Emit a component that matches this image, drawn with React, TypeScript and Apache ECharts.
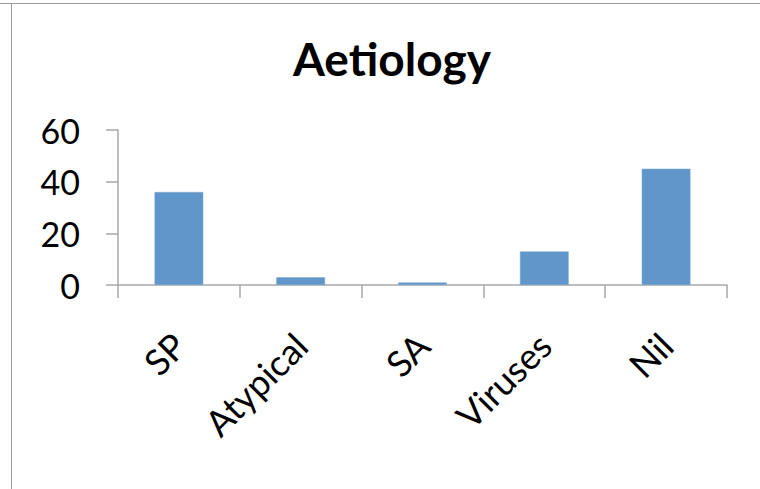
import React, { useEffect, useRef } from "react";
import * as echarts from "echarts";

// Aetiology counts per category
const categories = ["SP", "Atypical", "SA", "Viruses", "Nil"];
const counts = [36, 3, 1, 13, 45];
const yTicks = { min: 0, max: 60, interval: 20 };

const FONT = "Lato, 'Open Sans', sans-serif";
const AXIS_GREY = "#a9a9a9";

export default function App() {
  const ref = useRef<HTMLDivElement>(null);

  useEffect(() => {
    if (!ref.current) return;
    const chart = echarts.init(ref.current, undefined, { renderer: "svg" });
    chart.setOption({
      animation: false,
      backgroundColor: "#ffffff",
      title: {
        text: "Aetiology",
        left: 387,
        textAlign: "center",
        top: 30,
        textStyle: { fontFamily: FONT, fontSize: 46, fontWeight: "bold", color: "#000" },
      },
      graphic: [
        { type: "line", shape: { x1: 0, y1: 3.5, x2: 760, y2: 3.5 }, style: { stroke: "#9a9a9a", lineWidth: 1 } },
        { type: "line", shape: { x1: 11.5, y1: 3.5, x2: 11.5, y2: 489 }, style: { stroke: "#9a9a9a", lineWidth: 1 } },
      ],
      grid: { left: 118, right: 33, top: 130, bottom: 204, containLabel: false },
      xAxis: {
        type: "category",
        data: categories,
        axisLine: { show: true, lineStyle: { color: AXIS_GREY, width: 1.5 } },
        axisTick: { show: true, length: 13, lineStyle: { color: AXIS_GREY, width: 1.5 } },
        axisLabel: {
          rotate: 45,
          margin: 54,
          interval: 0,
          fontFamily: FONT,
          fontSize: 36,
          color: "#000",
        },
      },
      yAxis: {
        type: "value",
        min: yTicks.min,
        max: yTicks.max,
        interval: yTicks.interval,
        splitLine: { show: false },
        axisLine: { show: true, lineStyle: { color: AXIS_GREY, width: 1.5 } },
        axisTick: { show: true, length: 12, lineStyle: { color: AXIS_GREY, width: 1.5 } },
        axisLabel: {
          margin: 38,
          fontFamily: FONT,
          fontSize: 34,
          color: "#000",
        },
      },
      series: [
        {
          type: "bar",
          data: counts,
          barCategoryGap: "60%",
          itemStyle: { color: "#6096c9", borderColor: "#7aa8d4", borderWidth: 0.5 },
        },
      ],
    });
    return () => chart.dispose();
  }, []);

  return (
    <div
      ref={ref}
      style={{ position: "fixed", left: 0, top: 0, width: 760, height: 489, background: "#fff" }}
    />
  );
}
